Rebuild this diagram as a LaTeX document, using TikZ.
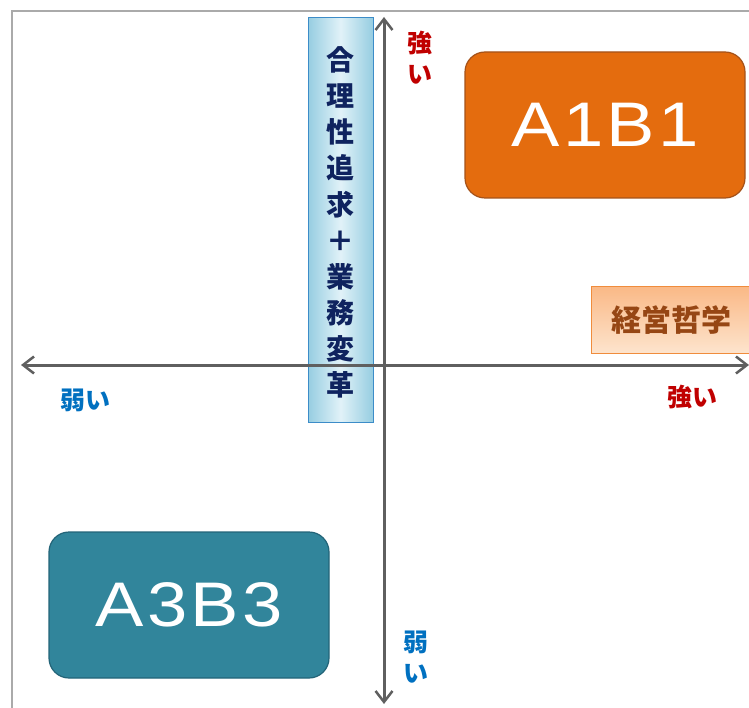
\documentclass[tikz,border=0pt]{standalone}
\usepackage{fontspec}
\usetikzlibrary{arrows.meta}
\newfontfamily\jp{Noto Sans CJK JP}
\newfontfamily\latn[LetterSpace=5,FakeStretch=1.15]{Liberation Sans}
\definecolor{framegray}{RGB}{170,170,170}
\definecolor{axisgray}{RGB}{95,95,95}
\definecolor{strongred}{RGB}{192,0,0}
\definecolor{weakblue}{RGB}{0,112,192}
\definecolor{navy}{RGB}{15,35,95}
\definecolor{boxblue}{RGB}{60,140,200}
\definecolor{lblue}{RGB}{150,205,225}
\definecolor{llblue}{RGB}{225,242,248}
\definecolor{orangefill}{RGB}{228,108,14}
\definecolor{orangeedge}{RGB}{165,82,25}
\definecolor{tealfill}{RGB}{49,133,155}
\definecolor{tealedge}{RGB}{35,100,120}
\definecolor{peach}{RGB}{250,185,135}
\definecolor{lpeach}{RGB}{253,228,205}
\definecolor{peachedge}{RGB}{240,140,60}
\definecolor{brownt}{RGB}{150,70,20}
\tikzset{
  axis/.style={draw=axisgray, line width=3pt, {Straight Barb[length=11pt,width=17pt,line width=2.5pt]}-{Straight Barb[length=11pt,width=17pt,line width=2.5pt]}},
  bigbox/.style={rounded corners=20pt, line width=1.2pt, minimum width=280pt, minimum height=146pt, text=white, font=\latn\fontsize{63}{63}\selectfont, inner sep=0pt},
  strong/.style={text=strongred, font=\jp\bfseries\fontsize{25}{31}\selectfont, align=center, inner sep=0pt},
  weak/.style={text=weakblue, font=\jp\bfseries\fontsize{25}{31}\selectfont, align=center, inner sep=0pt}
}
\begin{document}
\begin{tikzpicture}[x=1pt,y=-1pt]
\useasboundingbox (0,0) rectangle (749,708);
% frame
\draw[framegray, line width=1.5pt] (12,708) -- (12,11) -- (749,11);
% vertical box
\node[draw=boxblue, line width=1pt, left color=lblue, right color=lblue, middle color=llblue, minimum width=65pt, minimum height=404pt, inner sep=0pt] (vbox) at (340.5,220) {};
\node[text=navy, font=\jp\bfseries\fontsize{28}{36.1}\selectfont, align=center, inner sep=0pt] (vtext) at (340.5,222.5) {合\\理\\性\\追\\求\\＋\\業\\務\\変\\革};
% axes
\coordinate (vtop) at (384,17);
\coordinate (vbot) at (384,704);
\coordinate (hl) at (21,365);
\coordinate (hr) at (749,365);
\draw[axis] (vbot) -- (vtop);
\draw[axis] (hl) -- (hr);
% boxes
\node[bigbox, draw=orangeedge, fill=orangefill] (a1b1) at (605,125) {A1B1};
\node[bigbox, draw=tealedge, fill=tealfill] (a3b3) at (189,605) {A3B3};
\node[draw=peachedge, line width=1pt, top color=peach, bottom color=lpeach, minimum width=160pt, minimum height=66pt, inner sep=0pt, text=brownt, font=\jp\bfseries\fontsize{30}{30}\selectfont] (kt) at (671,320) {経営哲学};
% labels
\node[strong] (s1) at (420,58) {強\\い};
\node[strong] (s2) at (692,397) {強い};
\node[weak] (w1) at (85,400) {弱い};
\node[weak] (w2) at (416,657) {弱\\い};
\end{tikzpicture}
\end{document}
